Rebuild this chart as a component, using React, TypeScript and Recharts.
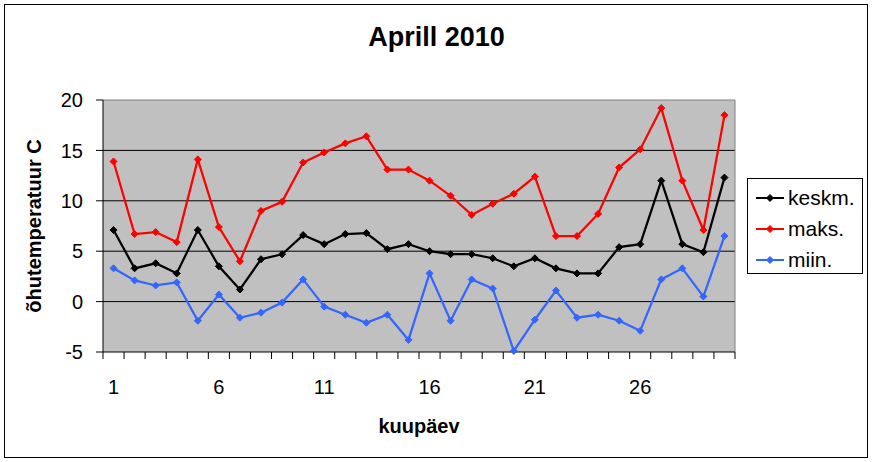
import React from "react";
import {
  LineChart,
  Line,
  XAxis,
  YAxis,
  CartesianGrid,
  ReferenceLine,
} from "recharts";

// päevad 1..30
const days = [
  1, 2, 3, 4, 5, 6, 7, 8, 9, 10, 11, 12, 13, 14, 15, 16, 17, 18, 19, 20, 21,
  22, 23, 24, 25, 26, 27, 28, 29, 30,
];

const keskm = [
  7.1, 3.3, 3.8, 2.8, 7.1, 3.5, 1.2, 4.2, 4.7, 6.6, 5.7, 6.7, 6.8, 5.2, 5.7,
  5.0, 4.7, 4.7, 4.3, 3.5, 4.3, 3.3, 2.8, 2.8, 5.4, 5.7, 12.0, 5.7, 4.9, 12.3,
];
const maks = [
  13.9, 6.7, 6.9, 5.9, 14.1, 7.4, 4.0, 9.0, 9.9, 13.8, 14.8, 15.7, 16.4, 13.1,
  13.1, 12.0, 10.5, 8.6, 9.7, 10.7, 12.4, 6.5, 6.5, 8.7, 13.3, 15.1, 19.2, 12.0,
  7.1, 18.5,
];
const miin = [
  3.3, 2.1, 1.6, 1.9, -1.9, 0.7, -1.6, -1.1, -0.1, 2.2, -0.5, -1.3, -2.1, -1.3,
  -3.8, 2.8, -1.9, 2.2, 1.3, -4.9, -1.8, 1.1, -1.6, -1.3, -1.9, -2.9, 2.2, 3.3,
  0.5, 6.5,
];

const dayLabels = [1, 6, 11, 16, 21, 26];
const yTicks = [-5, 0, 5, 10, 15, 20];
const gridValues = [0, 5, 10, 15];

const series = [
  { key: "keskm", name: "keskm.", color: "#000000" },
  { key: "maks", name: "maks.", color: "#ff0000" },
  { key: "miin", name: "miin.", color: "#3366ff" },
];

const data = days.map((day, i) => ({
  day,
  keskm: keskm[i],
  maks: maks[i],
  miin: miin[i],
}));

// tick marks sit between the days, like Excel's category axis
const boundaries = [...days.map((d) => d - 0.5), days[days.length - 1] + 0.5];

const FONT = "'Liberation Sans', Arial, sans-serif";

function Diamond({ cx, cy, color }: { cx: number; cy: number; color: string }) {
  const r = 3.5;
  return (
    <polygon
      points={`${cx},${cy - r} ${cx + r},${cy} ${cx},${cy + r} ${cx - r},${cy}`}
      fill={color}
      stroke={color}
    />
  );
}

function LegendBox() {
  return (
    <div
      style={{
        position: "absolute",
        left: 747,
        top: 178,
        width: 116,
        height: 96,
        boxSizing: "border-box",
        border: "1px solid #000",
        background: "#fff",
        fontFamily: FONT,
        fontSize: 21,
        paddingTop: 3,
      }}
    >
      {series.map((s) => (
        <div
          key={s.key}
          style={{ display: "flex", alignItems: "center", height: 31 }}
        >
          <svg width={40} height={12} style={{ marginLeft: 6 }}>
            <line x1={2} y1={6} x2={30} y2={6} stroke={s.color} strokeWidth={2} />
            <Diamond cx={16} cy={6} color={s.color} />
          </svg>
          <span style={{ marginLeft: -6 }}>{s.name}</span>
        </div>
      ))}
    </div>
  );
}

export default function App() {
  return (
    <div
      style={{
        position: "absolute",
        left: 0,
        top: 0,
        width: 873,
        height: 462,
        background: "#fff",
        fontFamily: FONT,
      }}
    >
      <div
        style={{
          position: "absolute",
          left: 4,
          top: 4,
          width: 864,
          height: 454,
          boxSizing: "border-box",
          border: "1.5px solid #000",
        }}
      />
      <div
        style={{
          position: "absolute",
          left: 0,
          top: 24,
          width: 873,
          textAlign: "center",
          fontSize: 27,
          lineHeight: "27px",
          fontWeight: "bold",
        }}
      >
        Aprill 2010
      </div>
      <LineChart
        width={873}
        height={462}
        data={data}
        margin={{ top: 100, right: 138, bottom: 0, left: 0 }}
        style={{ position: "absolute", left: 0, top: 0, fontFamily: FONT }}
      >
        <CartesianGrid
          horizontal={false}
          vertical={false}
          fill="#c0c0c0"
          xAxisId="axisMarks"
        />
        <XAxis
          xAxisId="labels"
          type="number"
          dataKey="day"
          domain={[0.5, 30.5]}
          ticks={dayLabels}
          axisLine={false}
          tickLine={false}
          tickSize={0}
          tickMargin={21}
          height={103}
          tick={{ fill: "#000", fontSize: 20 }}
          label={{
            value: "kuupäev",
            position: "insideBottom",
            offset: 29,
            style: { fontSize: 20, fontWeight: "bold", fill: "#000" },
          }}
        />
        <XAxis
          xAxisId="axisMarks"
          type="number"
          dataKey="day"
          domain={[0.5, 30.5]}
          ticks={boundaries}
          tickFormatter={() => ""}
          tickSize={7}
          height={7}
          axisLine={{ stroke: "#000", strokeWidth: 1 }}
          tickLine={{ stroke: "#000", strokeWidth: 1 }}
        />
        <YAxis
          type="number"
          domain={[-5, 20]}
          ticks={yTicks}
          width={103}
          tickSize={7}
          tickMargin={13}
          axisLine={{ stroke: "#000", strokeWidth: 1 }}
          tickLine={{ stroke: "#000", strokeWidth: 1 }}
          tick={{ fill: "#000", fontSize: 20 }}
          label={{
            value: "õhutemperatuur C",
            angle: -90,
            position: "insideLeft",
            offset: 34,
            style: {
              fontSize: 20,
              fontWeight: "bold",
              fill: "#000",
              textAnchor: "middle",
            },
          }}
        />
        {gridValues.map((v) => (
          <ReferenceLine
            key={v}
            y={v}
            xAxisId="axisMarks"
            stroke="#000"
            strokeWidth={1}
          />
        ))}
        <ReferenceLine y={20} xAxisId="axisMarks" stroke="#808080" strokeWidth={1} />
        <ReferenceLine x={30.5} xAxisId="axisMarks" stroke="#808080" strokeWidth={1} />
        {series.map((s) => (
          <Line
            key={s.key}
            xAxisId="axisMarks"
            type="linear"
            dataKey={s.key}
            name={s.name}
            stroke={s.color}
            strokeWidth={2.25}
            isAnimationActive={false}
            dot={(p: any) => (
              <Diamond key={`${s.key}-${p.index}`} cx={p.cx} cy={p.cy} color={s.color} />
            )}
            activeDot={false}
          />
        ))}
      </LineChart>
      <LegendBox />
    </div>
  );
}
